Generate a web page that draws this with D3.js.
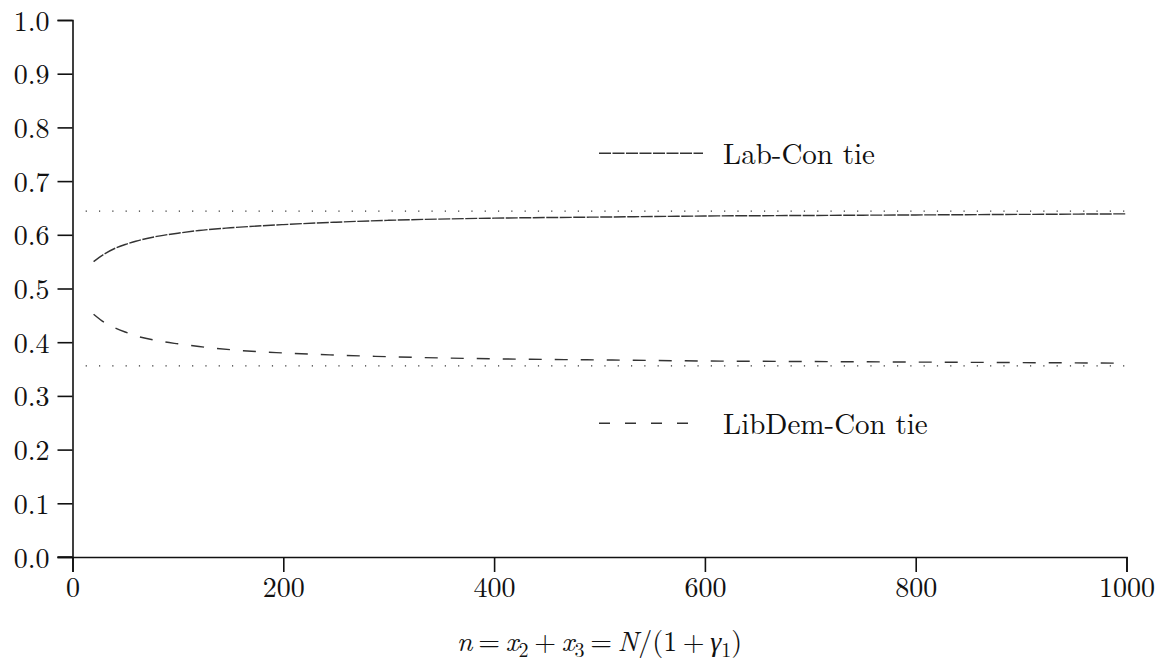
<!DOCTYPE html>
<html>
<head>
<meta charset="utf-8">
<script src="https://cdn.jsdelivr.net/npm/d3@7"></script>
<style>
  body { margin: 0; background: #fff; }
  svg text { font-family: "Latin Modern Roman", "CMU Serif", "Liberation Serif", serif; fill: #111; }
</style>
</head>
<body>
<div id="chart"></div>
<script>
// values
var nValues     = [20, 30, 40, 50, 60, 80, 100, 120, 150, 200, 250, 300, 400, 500, 600, 700, 800, 900, 1000];
var labConTie   = [0.550, 0.564, 0.5745, 0.582, 0.588, 0.597, 0.603, 0.608, 0.613, 0.619, 0.6235, 0.627, 0.631, 0.633, 0.635, 0.636, 0.637, 0.638, 0.639];
var libDemTie   = [0.452, 0.437, 0.427, 0.419, 0.412, 0.403, 0.397, 0.392, 0.386, 0.380, 0.376, 0.373, 0.369, 0.367, 0.365, 0.364, 0.363, 0.362, 0.361];
var limitLevels = [0.644, 0.356];
var xTicks = [0, 200, 400, 600, 800, 1000];
var yTicks = [0, 0.1, 0.2, 0.3, 0.4, 0.5, 0.6, 0.7, 0.8, 0.9, 1.0];
var legendNames = ["Lab-Con tie", "LibDem-Con tie"];

var W = 1163, H = 662;
var margin = { top: 20, right: 36.5, bottom: 105, left: 72.5 };
var width = W - margin.left - margin.right,
    height = H - margin.top - margin.bottom;

var svg = d3.select("#chart").append("svg")
    .attr("width", W)
    .attr("height", H)
  .append("g")
    .attr("transform", "translate(" + margin.left + "," + margin.top + ")");

var x = d3.scaleLinear().domain([0, 1000]).range([0, width]);
var y = d3.scaleLinear().domain([0, 1]).range([height, 0]);

// axes
var xAxis = d3.axisBottom(x).tickValues(xTicks).tickSize(15).tickSizeOuter(15)
    .tickFormat(d3.format("d"));
var yAxis = d3.axisLeft(y).tickValues(yTicks).tickSize(15).tickSizeOuter(15)
    .tickFormat(d3.format(".1f"));

var gx = svg.append("g")
    .attr("transform", "translate(0," + height + ")")
    .call(xAxis);
var gy = svg.append("g").call(yAxis);

[gx, gy].forEach(function(g) {
    g.selectAll(".domain").attr("stroke", "#111").attr("stroke-width", 1.6);
    g.selectAll(".tick line").attr("stroke", "#111").attr("stroke-width", 1.6);
    g.selectAll(".tick text")
        .style("font-family", '"Latin Modern Roman", "CMU Serif", "Liberation Serif", serif')
        .style("font-size", "28px")
        .attr("fill", "#111");
});
gx.selectAll(".tick text").attr("y", 20);
gy.selectAll(".tick text").attr("x", -23).attr("dy", "0.36em");
// left end of x axis reaches the y tick at 0
svg.append("line")
    .attr("x1", -15).attr("x2", 0)
    .attr("y1", height).attr("y2", height)
    .attr("stroke", "#111").attr("stroke-width", 1.6);

// dotted limit lines
svg.selectAll(".limit")
    .data(limitLevels)
  .enter().append("line")
    .attr("class", "limit")
    .attr("x1", x(12.5)).attr("x2", x(1000))
    .attr("y1", function(d) { return y(d); })
    .attr("y2", function(d) { return y(d); })
    .attr("stroke", "#333")
    .attr("stroke-width", 1.2)
    .attr("stroke-dasharray", "1.2,12.1");

var line = d3.line()
    .x(function(d) { return x(d[0]); })
    .y(function(d) { return y(d[1]); })
    .curve(d3.curveMonotoneX);

var series = [
    { name: legendNames[0], values: labConTie, dash: "12,1.5" },
    { name: legendNames[1], values: libDemTie, dash: "13,13" }
];

svg.selectAll(".curve")
    .data(series)
  .enter().append("path")
    .attr("class", "curve")
    .attr("d", function(s) { return line(nValues.map(function(n, i) { return [n, s.values[i]]; })); })
    .attr("fill", "none")
    .attr("stroke", "#333")
    .attr("stroke-width", 1.4)
    .attr("stroke-dasharray", function(s) { return s.dash; });

// legend
var legendY = [0.752, 0.249];
var legend = svg.selectAll(".legend")
    .data(series)
  .enter().append("g")
    .attr("class", "legend")
    .attr("transform", function(d, i) { return "translate(" + (599 - margin.left) + "," + y(legendY[i]) + ")"; });

legend.append("line")
    .attr("x1", 0)
    .attr("x2", function(d, i) { return i == 0 ? 104 : 94; })
    .attr("stroke", "#333")
    .attr("stroke-width", 1.4)
    .attr("stroke-dasharray", function(d, i) { return i == 0 ? "12,1.5" : "11,15"; });

legend.append("text")
    .attr("x", 124)
    .attr("dy", "0.38em")
    .style("font-size", "29px")
    .text(function(d) { return d.name; });

// x axis title: n = x2 + x3 = N/(1 + gamma1)
var title = svg.append("text")
    .attr("x", width / 2)
    .attr("y", height + 94)
    .attr("text-anchor", "middle")
    .style("font-size", "28px");

var parts = [
    ["n", "i"], ["\u2009=\u2009", "r"], ["x", "i"], ["2", "s"], ["\u2009+\u2009", "r"], ["x", "i"], ["3", "s"],
    ["\u2009=\u2009", "r"], ["N", "i"], ["/(1\u2009+\u2009", "r"], ["γ", "i"], ["1", "s"], [")", "r"]
];
var shifted = false;
parts.forEach(function(p) {
    var t = title.append("tspan").text(p[0]);
    if (p[1] == "i") t.style("font-style", "italic");
    if (p[1] == "s") {
        t.style("font-size", "20px").attr("dy", 6);
        shifted = true;
    } else if (shifted) {
        t.attr("dy", -6);
        shifted = false;
    }
});
</script>
</body>
</html>
